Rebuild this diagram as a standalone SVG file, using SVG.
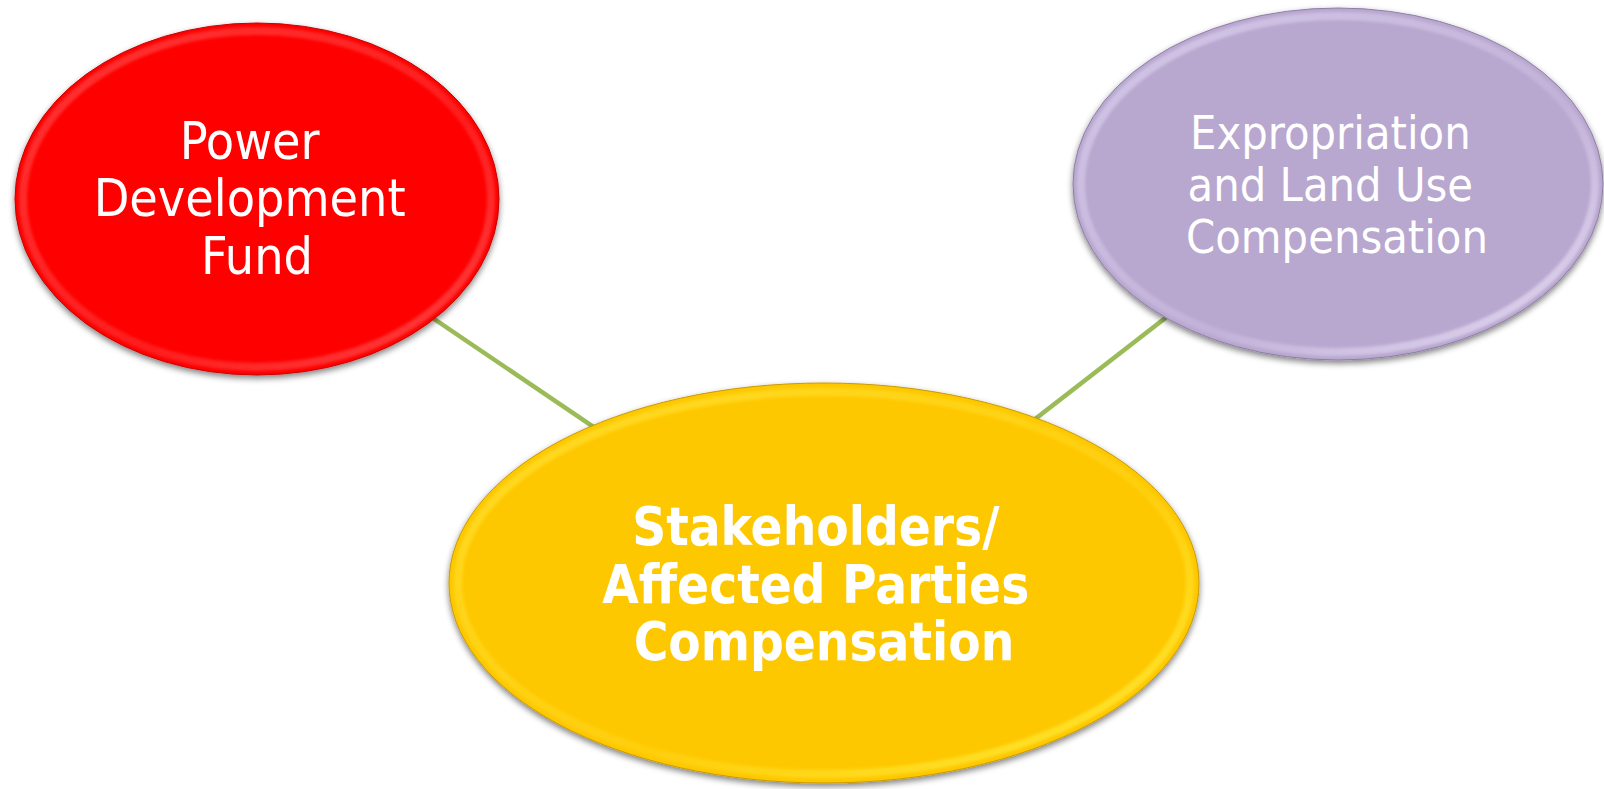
<svg xmlns="http://www.w3.org/2000/svg" width="1604" height="789" viewBox="0 0 1604 789">
  <style>
    .lbl { font-family: "DejaVu Sans Condensed", "DejaVu Sans", sans-serif; fill: #ffffff; text-anchor: middle; }
    .bold { font-weight: bold; }
    .conn { stroke: #9BBB59; stroke-width: 4.5; fill: none; }
    .rim { fill: none; stroke-width: 8; filter: url(#soft); }
  </style>
  <defs>
    <filter id="shadow" x="-10%" y="-10%" width="120%" height="125%">
      <feGaussianBlur in="SourceAlpha" stdDeviation="3"/>
      <feOffset dx="0" dy="3" result="b"/>
      <feComponentTransfer><feFuncA type="linear" slope="0.5"/></feComponentTransfer>
      <feMerge><feMergeNode/><feMergeNode in="SourceGraphic"/></feMerge>
    </filter>
    <filter id="soft" x="-5%" y="-5%" width="110%" height="110%">
      <feGaussianBlur stdDeviation="1.6"/>
    </filter>
    <linearGradient id="rimRed" x1="0" y1="0" x2="1" y2="1">
      <stop offset="0" stop-color="#ff4a4a"/>
      <stop offset="0.6" stop-color="#ff2a2a"/>
      <stop offset="1" stop-color="#ff5a5a"/>
    </linearGradient>
    <linearGradient id="rimPurple" x1="0" y1="0" x2="1" y2="1">
      <stop offset="0" stop-color="#d8cdec"/>
      <stop offset="0.6" stop-color="#c4b4da"/>
      <stop offset="1" stop-color="#ebe3f8"/>
    </linearGradient>
    <linearGradient id="rimYellow" x1="0" y1="0" x2="1" y2="1">
      <stop offset="0" stop-color="#ffe030"/>
      <stop offset="0.6" stop-color="#ffd010"/>
      <stop offset="1" stop-color="#fff040"/>
    </linearGradient>
  </defs>

  <rect width="1604" height="789" fill="#ffffff"/>

  <g id="connectors">
    <line class="conn" x1="257" y1="199" x2="824" y2="583"/>
    <line class="conn" x1="1338" y1="184" x2="824" y2="583"/>
  </g>

  <g id="node-power">
    <ellipse cx="257" cy="199" rx="242" ry="176" fill="#FE0202" stroke="#c80000" stroke-width="1" filter="url(#shadow)"/>
    <ellipse class="rim" cx="257" cy="199" rx="234" ry="168" stroke="url(#rimRed)" opacity="0.7"/>
    <text class="lbl" font-size="51.5">
      <tspan x="257" y="159">Power</tspan>
      <tspan x="257" y="216">Development</tspan>
      <tspan x="257" y="274">Fund</tspan>
    </text>
  </g>

  <g id="node-expropriation">
    <ellipse cx="1338" cy="184" rx="265" ry="176" fill="#B8A7CF" stroke="#8e7ea6" stroke-width="1" filter="url(#shadow)"/>
    <ellipse class="rim" cx="1338" cy="184" rx="257" ry="168" stroke="url(#rimPurple)" opacity="0.85"/>
    <text class="lbl" font-size="46.5">
      <tspan x="1337" y="149">Expropriation</tspan>
      <tspan x="1337" y="201">and Land Use</tspan>
      <tspan x="1337" y="253">Compensation</tspan>
    </text>
  </g>

  <g id="node-stakeholders">
    <ellipse cx="824" cy="583" rx="375" ry="200" fill="#FEC800" stroke="#c99a00" stroke-width="1" filter="url(#shadow)"/>
    <ellipse class="rim" cx="824" cy="583" rx="366" ry="191" stroke="url(#rimYellow)" opacity="0.8"/>
    <text class="lbl bold" font-size="52.5">
      <tspan x="824" y="545">Stakeholders/</tspan>
      <tspan x="824" y="603">Affected Parties</tspan>
      <tspan x="824" y="660">Compensation</tspan>
    </text>
  </g>
</svg>
